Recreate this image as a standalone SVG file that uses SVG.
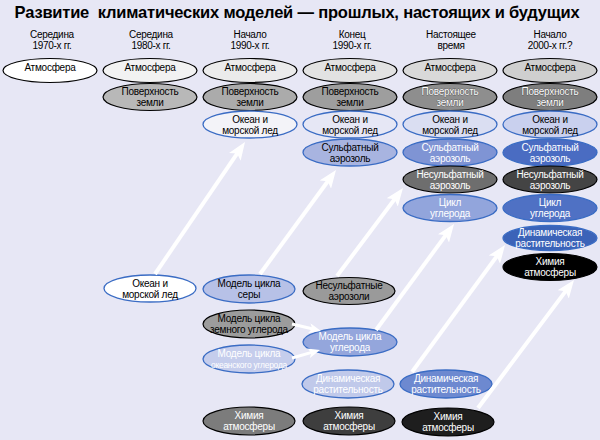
<svg xmlns="http://www.w3.org/2000/svg" width="600" height="440" viewBox="0 0 600 440">
<defs>
<style>
.t{font-family:"Liberation Sans",Arial,sans-serif;font-size:10px;letter-spacing:-0.25px;text-anchor:middle;fill:#000}
.w{fill:#fff}
.wo{fill:#fff;stroke:#333;stroke-width:0.5px;paint-order:stroke}
.h{font-family:"Liberation Sans",Arial,sans-serif;font-size:10px;letter-spacing:-0.3px;text-anchor:middle;fill:#000}
.k{stroke:#000;stroke-width:1.2}
.b{stroke:#3a6cc4;stroke-width:1.3}
.ar{stroke:#fff;stroke-width:4;fill:none}
.ars{stroke:#fff;stroke-width:3;fill:none}
</style>
<marker id="ah" viewBox="0 0 18 14" markerUnits="userSpaceOnUse" markerWidth="18" markerHeight="14" refX="10" refY="7" orient="auto">
<path d="M0,0 L18,7 L0,14 L4,7 Z" fill="#fff"/>
</marker>
<marker id="ahs" viewBox="0 0 12 10" markerUnits="userSpaceOnUse" markerWidth="12" markerHeight="10" refX="7" refY="5" orient="auto">
<path d="M0,0 L12,5 L0,10 L3,5 Z" fill="#fff"/>
</marker>
</defs>
<rect width="600" height="440" fill="#e7e7f5"/>
<text x="297" y="18" xml:space="preserve" style="font-family:'Liberation Sans',Arial,sans-serif;font-size:16.5px;font-weight:bold;text-anchor:middle;letter-spacing:-0.2px;fill:#000">Развитие  климатических моделей — прошлых, настоящих и будущих</text>
<g id="headers">
<text class="h" x="52" y="38">Середина</text><text class="h" x="52" y="49">1970-х гг.</text>
<text class="h" x="151" y="38">Середина</text><text class="h" x="151" y="49">1980-х гг.</text>
<text class="h" x="250" y="38">Начало</text><text class="h" x="250" y="49">1990-х гг.</text>
<text class="h" x="352" y="38">Конец</text><text class="h" x="352" y="49">1990-х гг.</text>
<text class="h" x="451" y="38">Настоящее</text><text class="h" x="451" y="49">время</text>
<text class="h" x="550" y="38">Начало</text><text class="h" x="550" y="49">2000-х гг.?</text>
</g>
<!-- Atmosphere row -->
<g id="atm1"><ellipse cx="50" cy="70.5" rx="47" ry="12" fill="#ffffff" class="k"/><text class="t" x="50" y="71">Атмосфера</text></g>
<g id="atm2"><ellipse cx="150" cy="70.5" rx="47" ry="12" fill="#f2f2f2" class="k"/><text class="t" x="150" y="71">Атмосфера</text></g>
<g id="atm3"><ellipse cx="250" cy="70.5" rx="47" ry="12" fill="#ebebeb" class="k"/><text class="t" x="250" y="71">Атмосфера</text></g>
<g id="atm4"><ellipse cx="350" cy="70.5" rx="47" ry="12" fill="#e2e2e2" class="k"/><text class="t" x="350" y="71">Атмосфера</text></g>
<g id="atm5"><ellipse cx="450" cy="70.5" rx="47" ry="12" fill="#d9d9d9" class="k"/><text class="t" x="450" y="71">Атмосфера</text></g>
<g id="atm6"><ellipse cx="550" cy="70.5" rx="47" ry="12" fill="#cfcfcf" class="k"/><text class="t" x="550" y="71">Атмосфера</text></g>
<!-- Land surface row -->
<g id="land2"><ellipse cx="150" cy="97" rx="47" ry="13.5" fill="#b8b8b8" class="k"/><text class="t" x="150" y="95">Поверхность</text><text class="t" x="150" y="106">земли</text></g>
<g id="land3"><ellipse cx="250" cy="97" rx="47" ry="13.5" fill="#ababab" class="k"/><text class="t" x="250" y="95">Поверхность</text><text class="t" x="250" y="106">земли</text></g>
<g id="land4"><ellipse cx="350" cy="97" rx="47" ry="13.5" fill="#9e9e9e" class="k"/><text class="t" x="350" y="95">Поверхность</text><text class="t" x="350" y="106">земли</text></g>
<g id="land5"><ellipse cx="450" cy="97" rx="47" ry="13.5" fill="#8e8e8e" class="k"/><text class="t wo" x="450" y="95">Поверхность</text><text class="t wo" x="450" y="106">земли</text></g>
<g id="land6"><ellipse cx="550" cy="97" rx="47" ry="13.5" fill="#7e7e7e" class="k"/><text class="t wo" x="550" y="95">Поверхность</text><text class="t wo" x="550" y="106">земли</text></g>
<!-- Ocean row -->
<g id="ocean3"><ellipse cx="250" cy="124.5" rx="47" ry="13.5" fill="#f3f3f8" class="b"/><text class="t" x="250" y="122.5">Океан и</text><text class="t" x="250" y="133.5">морской лед</text></g>
<g id="ocean4"><ellipse cx="350" cy="124.5" rx="47" ry="13.5" fill="#e6e7f5" class="b"/><text class="t" x="350" y="122.5">Океан и</text><text class="t" x="350" y="133.5">морской лед</text></g>
<g id="ocean5"><ellipse cx="450" cy="124.5" rx="47" ry="13.5" fill="#dadef2" class="b"/><text class="t" x="450" y="122.5">Океан и</text><text class="t" x="450" y="133.5">морской лед</text></g>
<g id="ocean6"><ellipse cx="550" cy="124.5" rx="47" ry="13.5" fill="#c9d0ee" class="b"/><text class="t" x="550" y="122.5">Океан и</text><text class="t" x="550" y="133.5">морской лед</text></g>
<!-- Sulfate row -->
<g id="sulf4"><ellipse cx="350" cy="152.5" rx="47" ry="13.5" fill="#a8b4e0" class="b"/><text class="t" x="350" y="150.5">Сульфатный</text><text class="t" x="350" y="161.5">аэрозоль</text></g>
<g id="sulf5"><ellipse cx="450" cy="152.5" rx="47" ry="13.5" fill="#7f94d4" class="b"/><text class="t w" x="450" y="150.5">Сульфатный</text><text class="t w" x="450" y="161.5">аэрозоль</text></g>
<g id="sulf6"><ellipse cx="550" cy="152.5" rx="47" ry="13.5" fill="#4a6cc2" class="b"/><text class="t w" x="550" y="150.5">Сульфатный</text><text class="t w" x="550" y="161.5">аэрозоль</text></g>
<!-- Non-sulfate row -->
<g id="nons5"><ellipse cx="450" cy="179.5" rx="47" ry="13.5" fill="#6e6e6e" class="k"/><text class="t w" x="450" y="177.5">Несульфатный</text><text class="t w" x="450" y="188.5">аэрозоль</text></g>
<g id="nons6"><ellipse cx="550" cy="179.5" rx="47" ry="13.5" fill="#444444" class="k"/><text class="t w" x="550" y="177.5">Несульфатный</text><text class="t w" x="550" y="188.5">аэрозоль</text></g>
<!-- Carbon cycle row -->
<g id="carb5"><ellipse cx="450" cy="208" rx="47" ry="13.5" fill="#92a5dc" class="b"/><text class="t w" x="450" y="206">Цикл</text><text class="t w" x="450" y="217">углерода</text></g>
<g id="carb6"><ellipse cx="550" cy="208" rx="47" ry="13.5" fill="#4f71c4" class="b"/><text class="t w" x="550" y="206">Цикл</text><text class="t w" x="550" y="217">углерода</text></g>
<!-- Vegetation / chemistry col6 -->
<g id="veg6"><ellipse cx="550" cy="238" rx="47" ry="12.5" fill="#3b63b8" class="b"/><text class="t w" x="550" y="236">Динамическая</text><text class="t w" x="550" y="247">растительность</text></g>
<g id="chem6"><ellipse cx="550" cy="267" rx="47" ry="13.5" fill="#000000" class="k"/><text class="t w" x="550" y="265">Химия</text><text class="t w" x="550" y="276">атмосферы</text></g>
<!-- Lower component models -->
<g id="oceanm"><ellipse cx="150" cy="288.5" rx="46" ry="13.5" fill="#ffffff" class="b"/><text class="t" x="150" y="286.5">Океан и</text><text class="t" x="150" y="297.5">морской лед</text></g>
<g id="sulfm"><ellipse cx="249" cy="289" rx="46" ry="14" fill="#b7c1e7" class="b"/><text class="t" x="249" y="287">Модель цикла</text><text class="t" x="249" y="298">серы</text></g>
<g id="nonsm"><ellipse cx="349" cy="291" rx="46" ry="13.5" fill="#9a9a9a" class="k"/><text class="t" x="349" y="289">Несульфатные</text><text class="t" x="349" y="300">аэрозоли</text></g>
<g id="landc"><ellipse cx="249" cy="324" rx="46" ry="14" fill="#9c9c9c" class="k"/><text class="t" x="249" y="322">Модель цикла</text><text class="t" x="249" y="333">земного углерода</text></g>
<g id="oceanc"><ellipse cx="249" cy="359" rx="46" ry="14" fill="#c5cdec" class="b"/><text class="t w" x="249" y="357">Модель цикла</text><text class="t w" x="249" y="368" textLength="76" lengthAdjust="spacingAndGlyphs" style="font-size:9px">океанского углерода</text></g>
<g id="carbm"><ellipse cx="350" cy="342" rx="47" ry="14" fill="#94a6dc" class="b"/><text class="t w" x="350" y="340">Модель цикла</text><text class="t w" x="350" y="351">углерода</text></g>
<g id="veg4"><ellipse cx="348" cy="384" rx="46" ry="14" fill="#c0c9ea" class="b"/><text class="t w" x="348" y="382">Динамическая</text><text class="t w" x="348" y="393">растительность</text></g>
<g id="veg5"><ellipse cx="446" cy="384" rx="46" ry="14" fill="#6d89d0" class="b"/><text class="t w" x="446" y="382">Динамическая</text><text class="t w" x="446" y="393">растительность</text></g>
<g id="chem3"><ellipse cx="249" cy="421" rx="46" ry="14" fill="#7c7c7c" class="k"/><text class="t w" x="249" y="419">Химия</text><text class="t w" x="249" y="430">атмосферы</text></g>
<g id="chem4"><ellipse cx="349" cy="421" rx="46" ry="14" fill="#3e3e3e" class="k"/><text class="t w" x="349" y="419">Химия</text><text class="t w" x="349" y="430">атмосферы</text></g>
<g id="chem5"><ellipse cx="448" cy="422" rx="46" ry="14" fill="#1e1e1e" class="k"/><text class="t w" x="448" y="420">Химия</text><text class="t w" x="448" y="431">атмосферы</text></g>
<g id="connectors">
<line class="ar" x1="155" y1="274" x2="240.5" y2="148.6" marker-end="url(#ah)"/>
<line class="ar" x1="260" y1="274" x2="331.3" y2="176.5" marker-end="url(#ah)"/>
<line class="ar" x1="337" y1="276" x2="398.2" y2="194.4" marker-end="url(#ah)"/>
<line class="ar" x1="376" y1="330" x2="449.3" y2="230.4" marker-end="url(#ah)"/>
<line class="ar" x1="412" y1="372" x2="500.3" y2="251.5" marker-end="url(#ah)"/>
<line class="ar" x1="478" y1="408" x2="569.2" y2="286.4" marker-end="url(#ah)"/>
<line class="ars" x1="292" y1="324" x2="316.1" y2="329.8" marker-end="url(#ahs)"/>
<line class="ars" x1="292" y1="358" x2="315.2" y2="351.4" marker-end="url(#ahs)"/>
</g>
</svg>
